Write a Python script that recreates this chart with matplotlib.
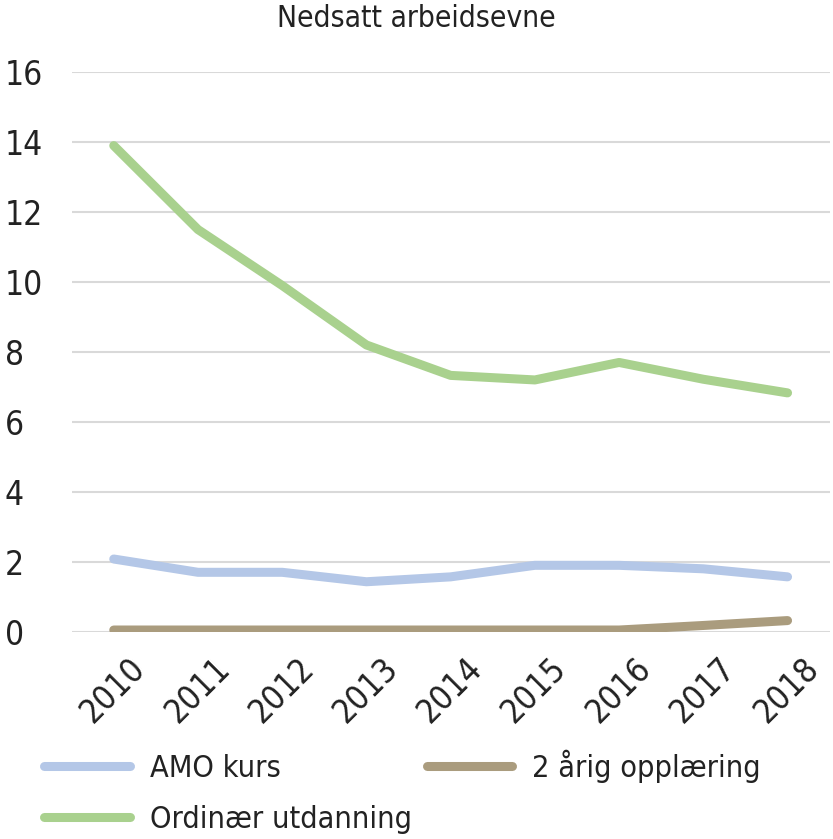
import matplotlib.pyplot as plt
import matplotlib.transforms as mtransforms
import numpy as np

plt.rcParams['font.family'] = ['DejaVu Sans']
plt.rcParams['font.stretch'] = 'condensed'

years = ['2010', '2011', '2012', '2013', '2014', '2015', '2016', '2017', '2018']
amo = [2.08, 1.7, 1.7, 1.43, 1.57, 1.9, 1.9, 1.8, 1.57]
toarig = [0.05, 0.05, 0.05, 0.05, 0.05, 0.05, 0.05, 0.18, 0.32]
ordinaer = [13.9, 11.5, 9.9, 8.2, 7.33, 7.2, 7.7, 7.22, 6.83]

fig = plt.figure(figsize=(8.33, 8.39), dpi=100)
ax = fig.add_axes([0.086, 0.247, 0.91, 0.667])

x = np.arange(len(years))
lw = 6.5
l1, = ax.plot(x, amo, c='#B4C7E7', lw=lw, solid_capstyle='round', label='AMO kurs')
l2, = ax.plot(x, toarig, c='#AA9C7E', lw=lw, solid_capstyle='round', label='2 årig opplæring')
l3, = ax.plot(x, ordinaer, c='#A9D18E', lw=lw, solid_capstyle='round', label='Ordinær utdanning')

ax.set_xlim(-0.5, len(years) - 0.5)
ax.set_ylim(0, 16)
ax.set_yticks(range(0, 17, 2))
ax.set_xticks(x)
ax.set_xticklabels(years, rotation=45, ha='right', rotation_mode='anchor')
ax.tick_params(axis='both', length=0, labelsize=24, colors='#222222')
ax.tick_params(axis='y', pad=48)
ax.tick_params(axis='x', pad=14)
for lbl in ax.get_yticklabels():
    lbl.set_ha('left')
shift = mtransforms.ScaledTranslation(15 / 100, 0, fig.dpi_scale_trans)
for lbl in ax.get_xticklabels():
    lbl.set_transform(lbl.get_transform() + shift)
ax.grid(axis='y', color='#D9D9D9', lw=1.5)
ax.set_axisbelow(True)
for s in ax.spines.values():
    s.set_visible(False)

fig.text(0.5, 0.978, 'Nedsatt arbeidsevne', ha='center', va='center', fontsize=21.5, color='#222222')

fig.legend([l1, l3, l2], [l1.get_label(), l3.get_label(), l2.get_label()],
           loc='lower left', bbox_to_anchor=(0.02, -0.027), ncol=2, frameon=False,
           fontsize=22, handlelength=2.8, columnspacing=0.5, handletextpad=0.65,
           labelspacing=0.72, labelcolor='#222222')

fig.savefig('out.png', dpi=100)
